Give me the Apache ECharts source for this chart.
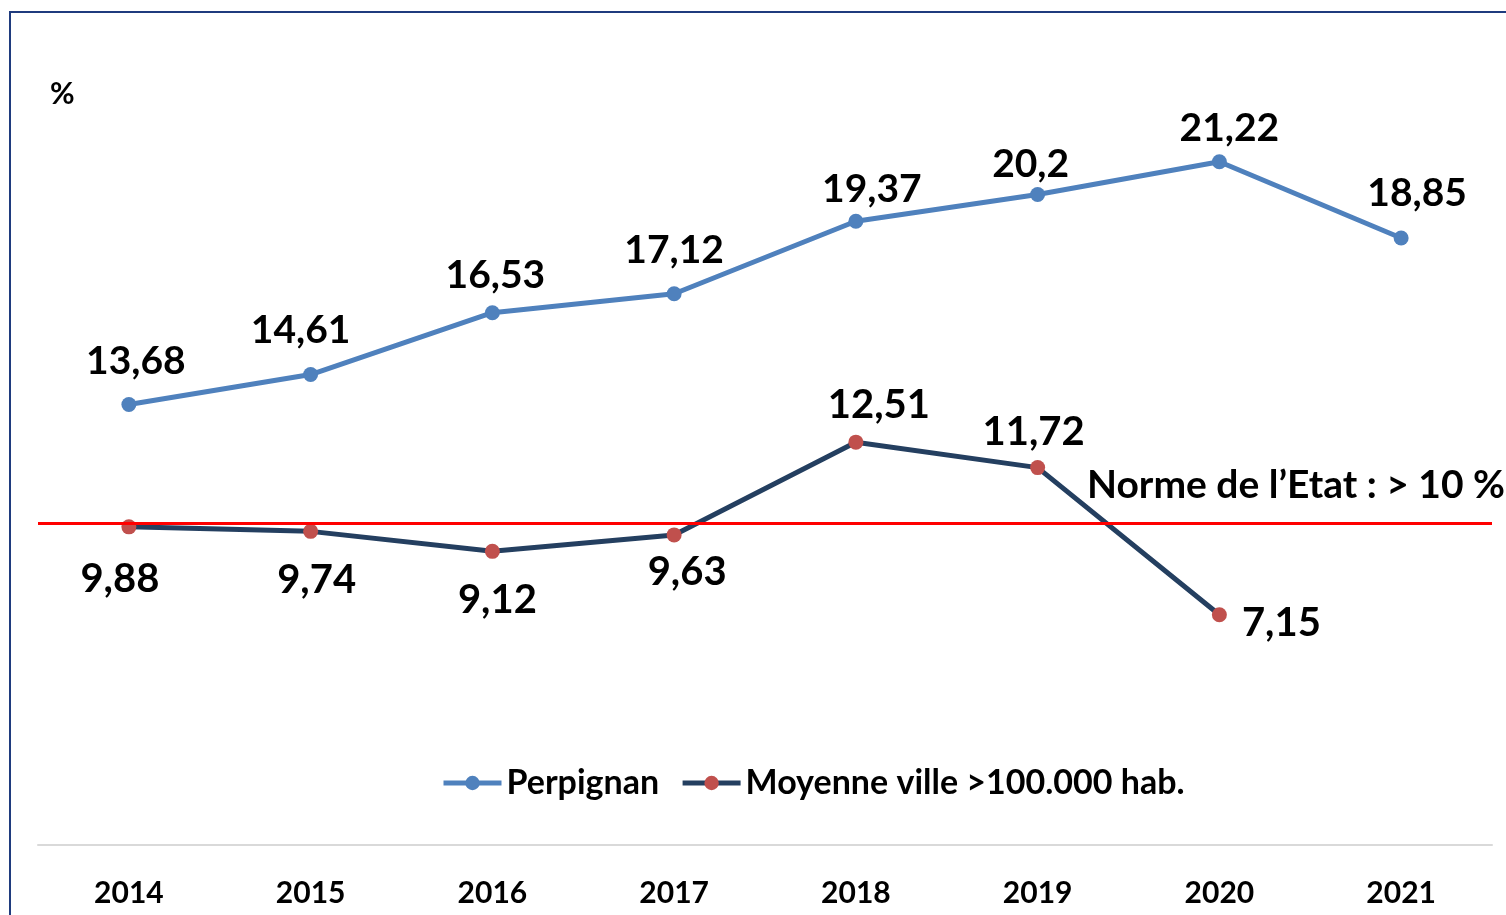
<!DOCTYPE html>
<html>
<head>
<meta charset="utf-8">
<script src="https://cdn.jsdelivr.net/npm/echarts@6/dist/echarts.min.js"></script>
<style>
html,body{margin:0;padding:0;background:#fff;}
#chart{width:1506px;height:915px;}
</style>
</head>
<body>
<div id="chart"></div>
<script>
var years = ['2014','2015','2016','2017','2018','2019','2020','2021'];
var perpignan = [13.68, 14.61, 16.53, 17.12, 19.37, 20.2, 21.22, 18.85];
var moyenne = [9.88, 9.74, 9.12, 9.63, 12.51, 11.72, 7.15, null];
var normeEtat = 10;
var seriesNames = ['Perpignan', 'Moyenne ville >100.000 hab.'];
var normeLabel = 'Norme de l\u2019Etat : > 10 %';

// label offsets (style only)
var perpOffsets = [[7,-43],[-10,-44],[3,-37],[0,-43],[16,-32],[-7,-30],[10,-33],[16,-45]];
var moyOffsets = [[-9,52],[6,49],[5,49],[13,37],[23,-37],[-4,-36],[62,8],[0,0]];

var FONT = 'Lato, "Open Sans", sans-serif';
function fmt(v){ return String(v).replace('.', ','); }

function buildData(vals, offs){
  return vals.map(function(v,i){
    return {value: v, label: {offset: offs[i]}};
  });
}

var chart = echarts.init(document.getElementById('chart'));
chart.setOption({
  animation: false,
  backgroundColor: '#fff',
  textStyle: {fontFamily: FONT},
  grid: {left: 38, right: 14, top: 40, bottom: 70, containLabel: false},
  graphic: [
    {type: 'rect', shape: {x: 10, y: 12, width: 1700, height: 1100},
     style: {fill: 'none', stroke: '#1f3b7e', lineWidth: 2}, silent: true, z: 0},
    {type: 'text', left: 50, top: 79,
     style: {text: '%', font: 'bold 30px ' + FONT, fill: '#000'}},
    {type: 'text', left: 1087, top: 466,
     style: {text: normeLabel, font: 'bold 39px ' + FONT, fill: '#000'}}
  ],
  legend: {
    bottom: 110,
    left: 436,
    itemWidth: 58,
    itemHeight: 18,
    itemGap: 21,
    textStyle: {fontSize: 34, fontWeight: 'bold', color: '#000', fontFamily: FONT},
    data: [
      {name: seriesNames[0], lineStyle: {width: 5}},
      {name: seriesNames[1], lineStyle: {width: 5}}
    ]
  },
  xAxis: {
    type: 'category',
    data: years,
    boundaryGap: true,
    axisLine: {lineStyle: {color: '#d9d9d9', width: 2}},
    axisTick: {show: false},
    axisLabel: {margin: 33, fontSize: 30, fontWeight: 'bold', color: '#000', fontFamily: FONT}
  },
  yAxis: {
    type: 'value', min: 0, max: 25, show: false,
    splitLine: {show: false}
  },
  series: [
    {
      name: seriesNames[0],
      type: 'line',
      data: buildData(perpignan, perpOffsets),
      symbol: 'circle',
      symbolSize: 15,
      lineStyle: {color: '#4f81bd', width: 5},
      itemStyle: {color: '#4f81bd'},
      label: {show: true, position: 'inside', formatter: function(p){return fmt(p.value);},
              fontSize: 39, fontWeight: 'bold', color: '#000', fontFamily: FONT},
      z: 3
    },
    {
      name: seriesNames[1],
      type: 'line',
      data: buildData(moyenne, moyOffsets),
      symbol: 'circle',
      symbolSize: 15,
      lineStyle: {color: '#243f60', width: 5},
      itemStyle: {color: '#c0504d'},
      label: {show: true, position: 'inside', formatter: function(p){return fmt(p.value);},
              fontSize: 40, fontWeight: 'bold', color: '#000', fontFamily: FONT},
      markLine: {
        silent: true,
        symbol: 'none',
        label: {show: false},
        lineStyle: {color: '#ff0000', width: 3, type: 'solid'},
        data: [{yAxis: normeEtat}]
      },
      z: 2
    }
  ]
});
</script>
</body>
</html>
